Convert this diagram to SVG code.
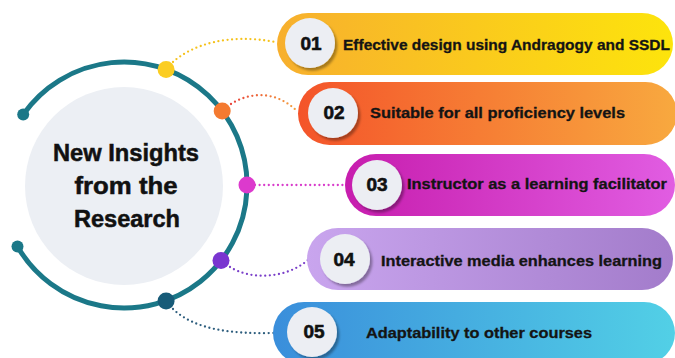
<svg xmlns="http://www.w3.org/2000/svg" width="675" height="358" viewBox="0 0 675 358">
  <defs>
    <style>
      .title { font-family: "Liberation Sans", Arial, sans-serif; font-weight: bold; font-size: 23px; fill: #111; stroke: #111; stroke-width: 0.5; text-anchor: middle; }
      .num { font-family: "Liberation Sans", Arial, sans-serif; font-weight: bold; font-size: 19px; fill: #111; stroke: #111; stroke-width: 0.6; text-anchor: middle; }
      .label { font-family: "Liberation Sans", Arial, sans-serif; font-weight: bold; font-size: 15px; fill: #141414; stroke: #141414; stroke-width: 0.3; }
      .badge { fill: #eceef3; filter: url(#badgeShadow); }
      .link { fill: none; stroke-width: 2.3; stroke-linecap: round; stroke-dasharray: 0 4.6; }
      .arc { fill: none; stroke: #1b7888; stroke-width: 5; stroke-linecap: round; }
    </style>
    <filter id="badgeShadow" x="-30%" y="-30%" width="160%" height="160%">
      <feDropShadow dx="2.4" dy="2.8" stdDeviation="1.1" flood-color="#000" flood-opacity="0.33"/>
    </filter>
    <linearGradient id="g1" x1="0" y1="0" x2="1" y2="0">
      <stop offset="0" stop-color="#f7af2e"/>
      <stop offset="1" stop-color="#fde40c"/>
    </linearGradient>
    <linearGradient id="g2" x1="0" y1="0" x2="1" y2="0">
      <stop offset="0" stop-color="#f4542a"/>
      <stop offset="1" stop-color="#f8a93f"/>
    </linearGradient>
    <linearGradient id="g3" x1="0" y1="0" x2="1" y2="0">
      <stop offset="0" stop-color="#c71dae"/>
      <stop offset="1" stop-color="#e15de2"/>
    </linearGradient>
    <linearGradient id="g4" x1="0" y1="0" x2="1" y2="0">
      <stop offset="0" stop-color="#c9a5ee"/>
      <stop offset="1" stop-color="#a37ccb"/>
    </linearGradient>
    <linearGradient id="g5" x1="0" y1="0" x2="1" y2="0">
      <stop offset="0" stop-color="#3a8edb"/>
      <stop offset="1" stop-color="#52d0e6"/>
    </linearGradient>
    <linearGradient id="link2" gradientUnits="userSpaceOnUse" x1="230" y1="0" x2="298" y2="0">
      <stop offset="0" stop-color="#e8413a"/>
      <stop offset="1" stop-color="#f5a33e"/>
    </linearGradient>
  </defs>

  <!-- central hub -->
  <g id="hub">
    <circle cx="124" cy="186" r="99" fill="#eceff4"/>
    <path class="arc" d="M 23.2 114.5 A 123 123 0 1 1 17.5 246.5"/>
    <circle cx="23.2" cy="114.5" r="6" fill="#1b7888"/>
    <circle cx="17.5" cy="246.5" r="6" fill="#1b7888"/>
    <text class="title" x="126" y="161" textLength="146" lengthAdjust="spacingAndGlyphs">New Insights</text>
    <text class="title" x="126" y="194" textLength="103" lengthAdjust="spacingAndGlyphs">from the</text>
    <text class="title" x="127" y="226.5" textLength="106" lengthAdjust="spacingAndGlyphs">Research</text>
  </g>

  <!-- dotted connectors from the ring to each item -->
  <g id="connectors">
    <path class="link" stroke="#f5c21c" d="M 173 62 C 192 45 228 33 275 42"/>
    <path class="link" stroke="url(#link2)" d="M 231 104 C 250 92 276 90 298 112"/>
    <path class="link" stroke="#d83ccb" d="M 255 185 L 346 185"/>
    <path class="link" stroke="#7a3fc9" d="M 230 267 C 250 280 286 279 308 260"/>
    <path class="link" stroke="#2e5e7e" d="M 173 309 C 195 330 232 334 274 333"/>
  </g>

  <!-- ring markers -->
  <g id="markers">
    <circle cx="166.1" cy="69.4" r="8.5" fill="#fbcd22"/>
    <circle cx="222.2" cy="111" r="8.5" fill="#f47a30"/>
    <circle cx="247" cy="185" r="8.5" fill="#dc3acd"/>
    <circle cx="221" cy="260.5" r="8.5" fill="#7a35d0"/>
    <circle cx="166.1" cy="301" r="8.5" fill="#175b78"/>
  </g>

  <g id="item1">
    <rect x="277" y="13" width="396" height="62" rx="31" fill="url(#g1)"/>
    <circle class="badge" cx="310" cy="43" r="25"/>
    <text class="num" x="311" y="50">01</text>
    <text class="label" x="343" y="50" textLength="327" lengthAdjust="spacingAndGlyphs">Effective design using Andragogy and SSDL</text>
  </g>

  <g id="item2">
    <rect x="298" y="82" width="379" height="63" rx="31.5" fill="url(#g2)"/>
    <circle class="badge" cx="333" cy="113" r="25"/>
    <text class="num" x="334" y="119">02</text>
    <text class="label" x="370" y="118" textLength="255" lengthAdjust="spacingAndGlyphs">Suitable for all proficiency levels</text>
  </g>

  <g id="item3">
    <rect x="345" y="154" width="330" height="62" rx="31" fill="url(#g3)"/>
    <circle class="badge" cx="377" cy="185" r="25"/>
    <text class="num" x="377" y="191">03</text>
    <text class="label" x="407" y="189" textLength="260" lengthAdjust="spacingAndGlyphs">Instructor as a learning facilitator</text>
  </g>

  <g id="item4">
    <rect x="307" y="228" width="366" height="62" rx="31" fill="url(#g4)"/>
    <circle class="badge" cx="345" cy="259" r="25"/>
    <text class="num" x="344" y="265.5">04</text>
    <text class="label" x="381" y="266" textLength="281" lengthAdjust="spacingAndGlyphs">Interactive media enhances learning</text>
  </g>

  <g id="item5">
    <rect x="273" y="302" width="402" height="62" rx="31" fill="url(#g5)"/>
    <circle class="badge" cx="312" cy="332" r="25"/>
    <text class="num" x="314" y="338">05</text>
    <text class="label" x="366" y="338" textLength="226" lengthAdjust="spacingAndGlyphs">Adaptability to other courses</text>
  </g>
</svg>
